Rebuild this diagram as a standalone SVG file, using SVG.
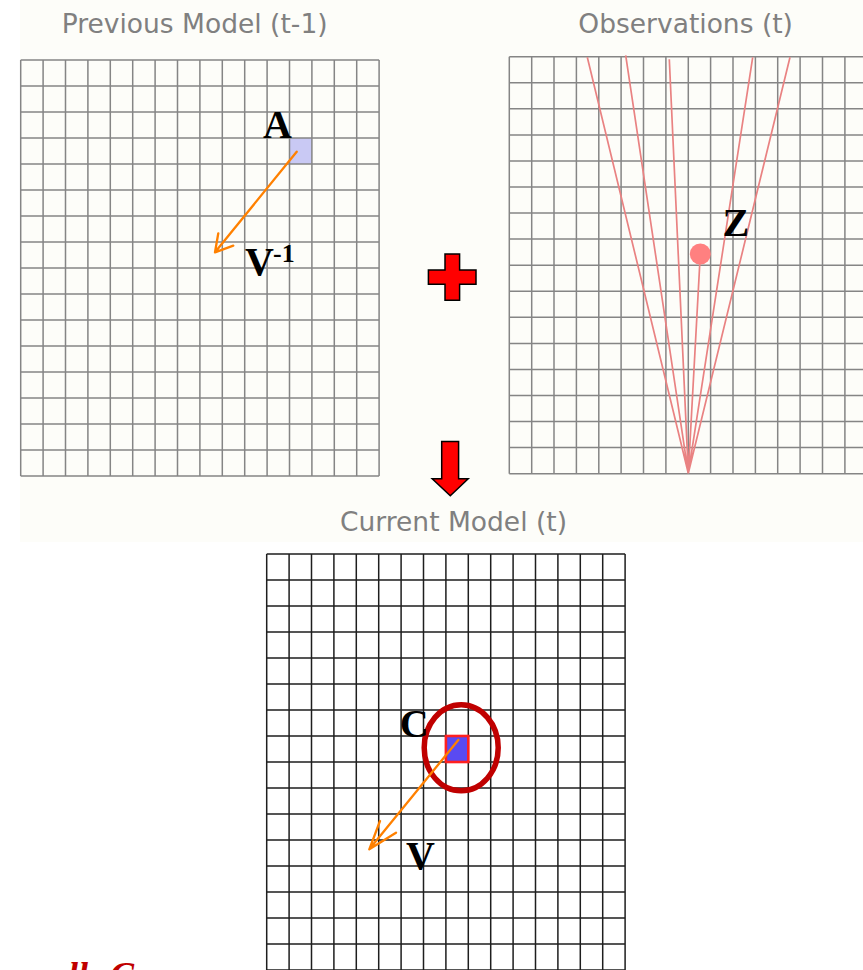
<svg xmlns="http://www.w3.org/2000/svg" width="863" height="970" viewBox="0 0 863 970">
<style>
.title{font-family:"DejaVu Sans","Liberation Sans",sans-serif;font-size:26.5px;fill:#808080}
.lbl{font-family:"Liberation Serif","Times New Roman",serif;font-weight:bold;font-size:40px;fill:#000}
.sup{font-size:26px}
.gridg{fill:none;stroke:#858585;stroke-width:1.5}
.gridk{fill:none;stroke:#1e1e1e;stroke-width:1.5}
.ray{fill:none;stroke:#e98282;stroke-width:1.7}
.vec{fill:none;stroke:#ff8000;stroke-width:2.3;stroke-linecap:round;stroke-linejoin:round}
.big{fill:#ff0000;stroke:#000;stroke-width:1.5;stroke-linejoin:miter}
.cap{font-family:"Liberation Serif","Times New Roman",serif;font-weight:bold;font-style:italic;font-size:36px;fill:#c00000}
</style>
<rect x="0" y="0" width="863" height="970" fill="#ffffff"/>
<rect x="20" y="0" width="843" height="542" fill="#fdfdf9"/>

<g id="prev-model">
<text class="title" x="61.7" y="32.5">Previous Model (t-1)</text>
<rect x="289.5" y="138" width="22.4" height="26" fill="#c9c9f4"/>
<path class="gridg" d="M20.7,60V476M43.1,60V476M65.5,60V476M87.9,60V476M110.3,60V476M132.7,60V476M155.1,60V476M177.5,60V476M199.9,60V476M222.3,60V476M244.7,60V476M267.1,60V476M289.5,60V476M311.9,60V476M334.3,60V476M356.7,60V476M379.1,60V476M20.7,60H379.1M20.7,86H379.1M20.7,112H379.1M20.7,138H379.1M20.7,164H379.1M20.7,190H379.1M20.7,216H379.1M20.7,242H379.1M20.7,268H379.1M20.7,294H379.1M20.7,320H379.1M20.7,346H379.1M20.7,372H379.1M20.7,398H379.1M20.7,424H379.1M20.7,450H379.1M20.7,476H379.1"/>
<text class="lbl" x="263" y="137.5">A</text>
<text class="lbl" x="245" y="275">V<tspan class="sup" x="273" y="262">-1</tspan></text>
</g>

<g id="observations">
<text class="title" x="578.3" y="32.5">Observations (t)</text>
<path class="gridg" d="M509.3,56.7V473.7M531.7,56.7V473.7M554,56.7V473.7M576.4,56.7V473.7M598.8,56.7V473.7M621.1,56.7V473.7M643.5,56.7V473.7M665.9,56.7V473.7M688.3,56.7V473.7M710.6,56.7V473.7M733,56.7V473.7M755.4,56.7V473.7M777.7,56.7V473.7M800.1,56.7V473.7M822.5,56.7V473.7M844.9,56.7V473.7M867.2,56.7V473.7M509.3,56.7H867.2M509.3,82.8H867.2M509.3,108.8H867.2M509.3,134.9H867.2M509.3,160.9H867.2M509.3,187H867.2M509.3,213.1H867.2M509.3,239.1H867.2M509.3,265.2H867.2M509.3,291.2H867.2M509.3,317.3H867.2M509.3,343.4H867.2M509.3,369.4H867.2M509.3,395.5H867.2M509.3,421.5H867.2M509.3,447.6H867.2M509.3,473.7H867.2"/>
<path class="ray" d="M688.3,473.3L587.3,57.3M688.3,473.3L625.7,55.3M688.3,473.3L669.3,59.3M688.3,473.3L752.7,57.3M688.3,473.3L790,57.3M688.3,473.3L700.3,254"/>
<circle cx="700.3" cy="254" r="10.5" fill="#ff8080"/>
<text class="lbl" x="722.5" y="236">Z</text>
</g>

<g id="plus">
<polygon class="big" points="445,254 459.6,254 459.6,270 476,270 476,284.3 459.6,284.3 459.6,300.3 445,300.3 445,284.3 428.4,284.3 428.4,270 445,270"/>
</g>

<g id="down-arrow">
<polygon class="big" points="441.7,441.4 458.6,441.4 458.6,478.7 468.2,478.7 450.3,495.8 432.2,478.7 441.7,478.7"/>
</g>

<g id="current-model">
<text class="title" x="340" y="531">Current Model (t)</text>
<path class="gridk" d="M266.7,554V970M289.1,554V970M311.5,554V970M333.9,554V970M356.3,554V970M378.7,554V970M401.1,554V970M423.5,554V970M445.9,554V970M468.3,554V970M490.7,554V970M513.1,554V970M535.5,554V970M557.9,554V970M580.3,554V970M602.7,554V970M625.1,554V970M266.7,554H625.1M266.7,580H625.1M266.7,606H625.1M266.7,632H625.1M266.7,658H625.1M266.7,684H625.1M266.7,710H625.1M266.7,736H625.1M266.7,762H625.1M266.7,788H625.1M266.7,814H625.1M266.7,840H625.1M266.7,866H625.1M266.7,892H625.1M266.7,918H625.1M266.7,944H625.1M266.7,970H625.1"/>
<rect x="445.9" y="736" width="22.4" height="26" fill="#5a4af2" stroke="#ff2020" stroke-width="2.6"/>
<ellipse cx="461.2" cy="747.8" rx="37" ry="43" fill="none" stroke="#c00000" stroke-width="5.5"/>
<text class="lbl" x="399.8" y="736.5">C</text>
<text class="lbl" x="406" y="868.5">V</text>
</g>

<g id="connectors">
<path class="vec" d="M296.7,151.7L215,252.3M218.3,233.3L215,252.3L233.3,245.7"/>
<path class="vec" d="M458.3,740L369.3,849.3M380,821L369.3,849.3L396,832.7"/>
</g>

<text class="cap" y="987"><tspan x="68">ll</tspan><tspan x="110">C</tspan></text>
</svg>
